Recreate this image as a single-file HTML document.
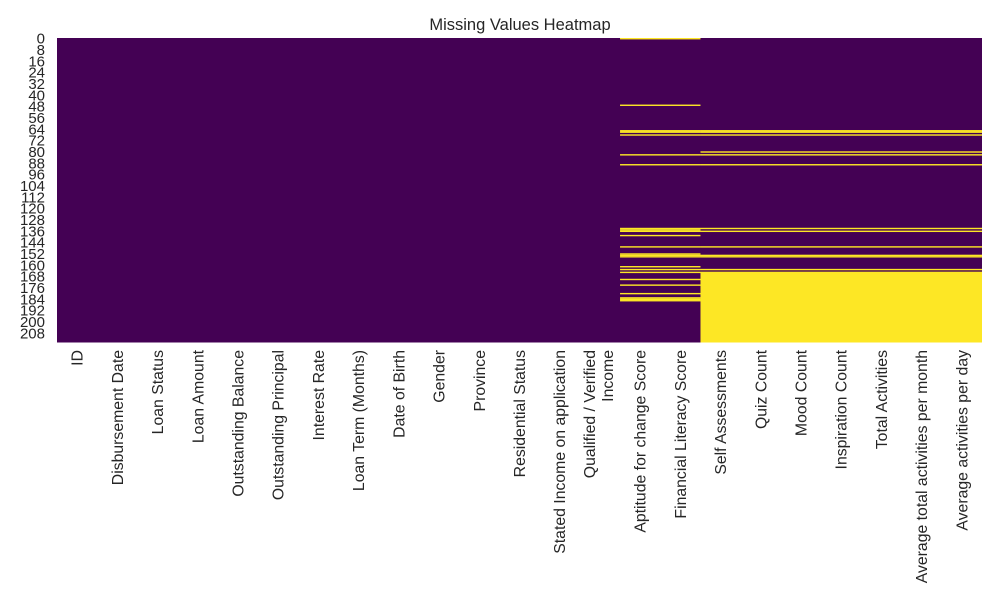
<!DOCTYPE html>
<html><head><meta charset="utf-8"><style>
body{margin:0;background:#fff;}
svg{display:block;font-family:"Liberation Sans","DejaVu Sans",sans-serif;}
</style></head><body>
<svg id="chart" width="1000" height="600">
<text x="520" y="30" text-anchor="middle" font-size="16.5" fill="#262626">Missing Values Heatmap</text>
<g id="cells"></g>
<g id="yticks"></g>
<g id="xticks"></g>
</svg>
<script>
const columns=["ID","Disbursement Date","Loan Status","Loan Amount","Outstanding Balance","Outstanding Principal","Interest Rate","Loan Term (Months)","Date of Birth","Gender","Province","Residential Status","Stated Income on application","Qualified / Verified\nIncome","Aptitude for change Score","Financial Literacy Score","Self Assessments","Quiz Count","Mood Count","Inspiration Count","Total Activities","Average total activities per month","Average activities per day"];
const nRows=215;
const yTickLabels=[0,8,16,24,32,40,48,56,64,72,80,88,96,104,112,120,128,136,144,152,160,168,176,184,192,200,208];
// missing rows for Aptitude & Financial Literacy columns
const scoreMissingRows=[0,47,65,66,68,82,89,134,135,136,139,147,152,153,154,161,163,165,170,174,180,183,184,185];
// missing rows for activity columns (Self Assessments ... Average activities per day)
const activityMissingRows=[65,66,68,80,82,89,134,136,147,153,154,163];
const activityMissingFrom=165;

const L=57,R=982,T=38,B=342.5;
const colW=(R-L)/columns.length, rowH=(B-T)/nRows;
const xPos=i=>L+i*colW, yPos=r=>T+r*rowH;
const NS="http://www.w3.org/2000/svg";
const cells=document.getElementById('cells');
function rect(x,y,w,h,fill,name){const e=document.createElementNS(NS,'rect');
e.setAttribute('x',x);e.setAttribute('y',y);e.setAttribute('width',w);e.setAttribute('height',h);e.setAttribute('fill',fill);


cells.appendChild(e);}
rect(L,T,R-L,B-T,'#440154','heatmap-background');
const YEL='#fde725';
scoreMissingRows.forEach(r=>rect(xPos(14),yPos(r),colW*2,rowH,YEL,'missing-cell-score-row'));
activityMissingRows.forEach(r=>rect(xPos(16),yPos(r),colW*7,rowH,YEL,'missing-cell-activity-row'));
rect(xPos(16),yPos(activityMissingFrom),colW*7,yPos(nRows)-yPos(activityMissingFrom),YEL,'missing-cell-activity-block');

const yt=document.getElementById('yticks');
yTickLabels.forEach(v=>{const t=document.createElementNS(NS,'text');
t.setAttribute('x',45);t.setAttribute('y',yPos(v+0.5)+5);t.setAttribute('text-anchor','end');
t.setAttribute('font-size','15');t.setAttribute('fill','#262626');t.textContent=v;


yt.appendChild(t);});

const xt=document.getElementById('xticks');
columns.forEach((c,i)=>{const cx=xPos(i+0.5);const lines=c.split('\n');
const t=document.createElementNS(NS,'text');
t.setAttribute('transform','translate('+cx+',350) rotate(-90)');
t.setAttribute('text-anchor','end');t.setAttribute('font-size','15.8');t.setAttribute('fill','#262626');
lines.forEach((ln,k)=>{const s=document.createElementNS(NS,'tspan');s.setAttribute('x',0);
s.setAttribute('dy',k===0?(lines.length>1?-5:5.5):18);s.textContent=ln;t.appendChild(s);});


xt.appendChild(t);});
</script>
</body></html>
